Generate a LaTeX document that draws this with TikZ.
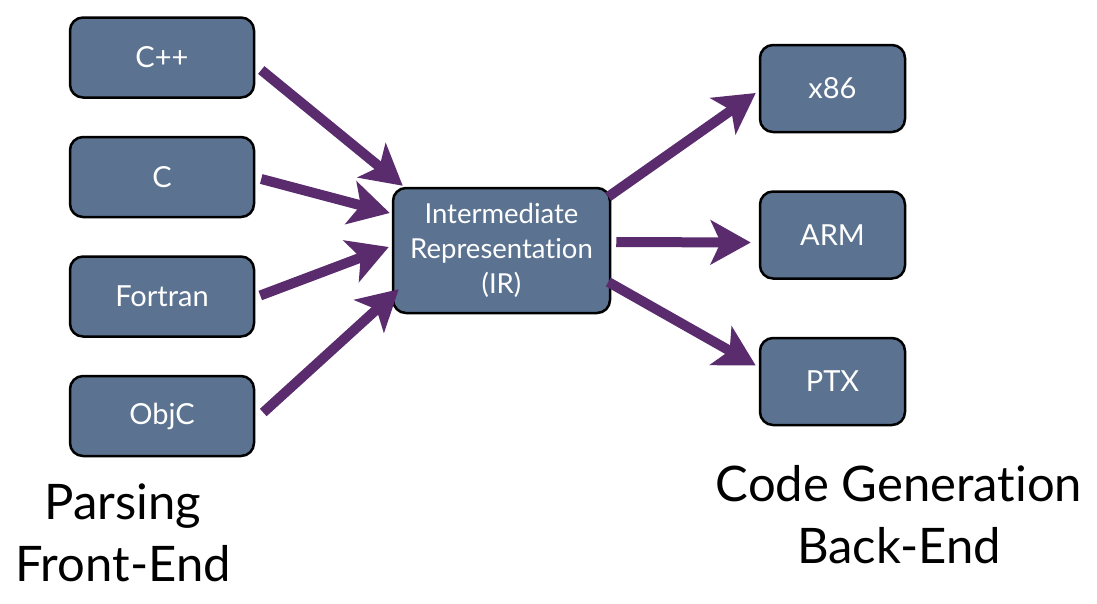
\documentclass[tikz,border=0pt]{standalone}
\usepackage{fontspec}
\setmainfont{Lato}[Ligatures={NoCommon,NoContextual,NoRare}, RawFeature=-calt]
\usepackage{xcolor}
\usetikzlibrary{arrows.meta,positioning}

\definecolor{slate}{RGB}{91,115,145}
\definecolor{plum}{RGB}{90,44,110}

\begin{document}
\begin{tikzpicture}[
    x=1pt, y=-1pt,
    node distance=37pt,
    srcbox/.style={draw=black, line width=2.5pt, rounded corners=13pt, fill=slate, text=white, align=center, minimum width=184pt, minimum height=80pt, font=\fontsize{29}{34}\selectfont},
    tgtbox/.style={srcbox, minimum width=145pt, minimum height=87pt},
    irbox/.style={srcbox, minimum width=217pt, minimum height=125pt, font=\fontsize{27.5}{35}\selectfont},
    caption/.style={align=center, font=\fontsize{49}{62}\selectfont},
    flow/.style={-{Stealth[length=40pt, width=44pt, inset=10pt]}, line width=10pt, plum}
]
\useasboundingbox (0,0) rectangle (1097,603);

% Front-end languages stacked on the left.
\node[srcbox] (cpp) at (162,57.5) {C++};
\node[srcbox, below=of cpp] (c) {C};
\node[srcbox, below=of c] (fortran) {Fortran};
\node[srcbox, below=of fortran] (objc) {ObjC};

% Shared intermediate form.
\node[irbox] (ir) at (501.5,250.5) {Intermediate\\Representation\\(IR)};

% Back-end targets on the right.
\node[tgtbox] (x86) at (832.5,88.5) {x86};
\node[tgtbox, below=57pt of x86] (arm) {ARM};
\node[tgtbox, below=57pt of arm] (ptx) {PTX};

% Column captions.
\node[caption] (frontend) at (123,533) {Parsing\\Front-End};
\node[caption] (backend) at (899,515) {Code Generation\\Back-End};

% Languages into the IR.
\draw[flow] ([shift={(6,12.5)}]cpp.east) -- ([shift={(11,-1)}]ir.north west);
\draw[flow] ([shift={(6,2)}]c.east) -- ([shift={(-2,-37.5)}]ir.west);
\draw[flow] ([shift={(5,-1)}]fortran.east) -- ([shift={(-3,-3.5)}]ir.west);
\draw[flow] ([shift={(8,-3.5)}]objc.east) -- ([shift={(7,-25)}]ir.south west);

% IR out to the targets.
\draw[flow] ([shift={(-3,10)}]ir.north east) -- ([shift={(-3,4.5)}]x86.west);
\draw[flow] ([shift={(5,-8.5)}]ir.east) -- ([shift={(-8,7.5)}]arm.west);
\draw[flow] ([shift={(-3,31.5)}]ir.east) -- ([shift={(-3,-16)}]ptx.west);

\end{tikzpicture}
\end{document}
